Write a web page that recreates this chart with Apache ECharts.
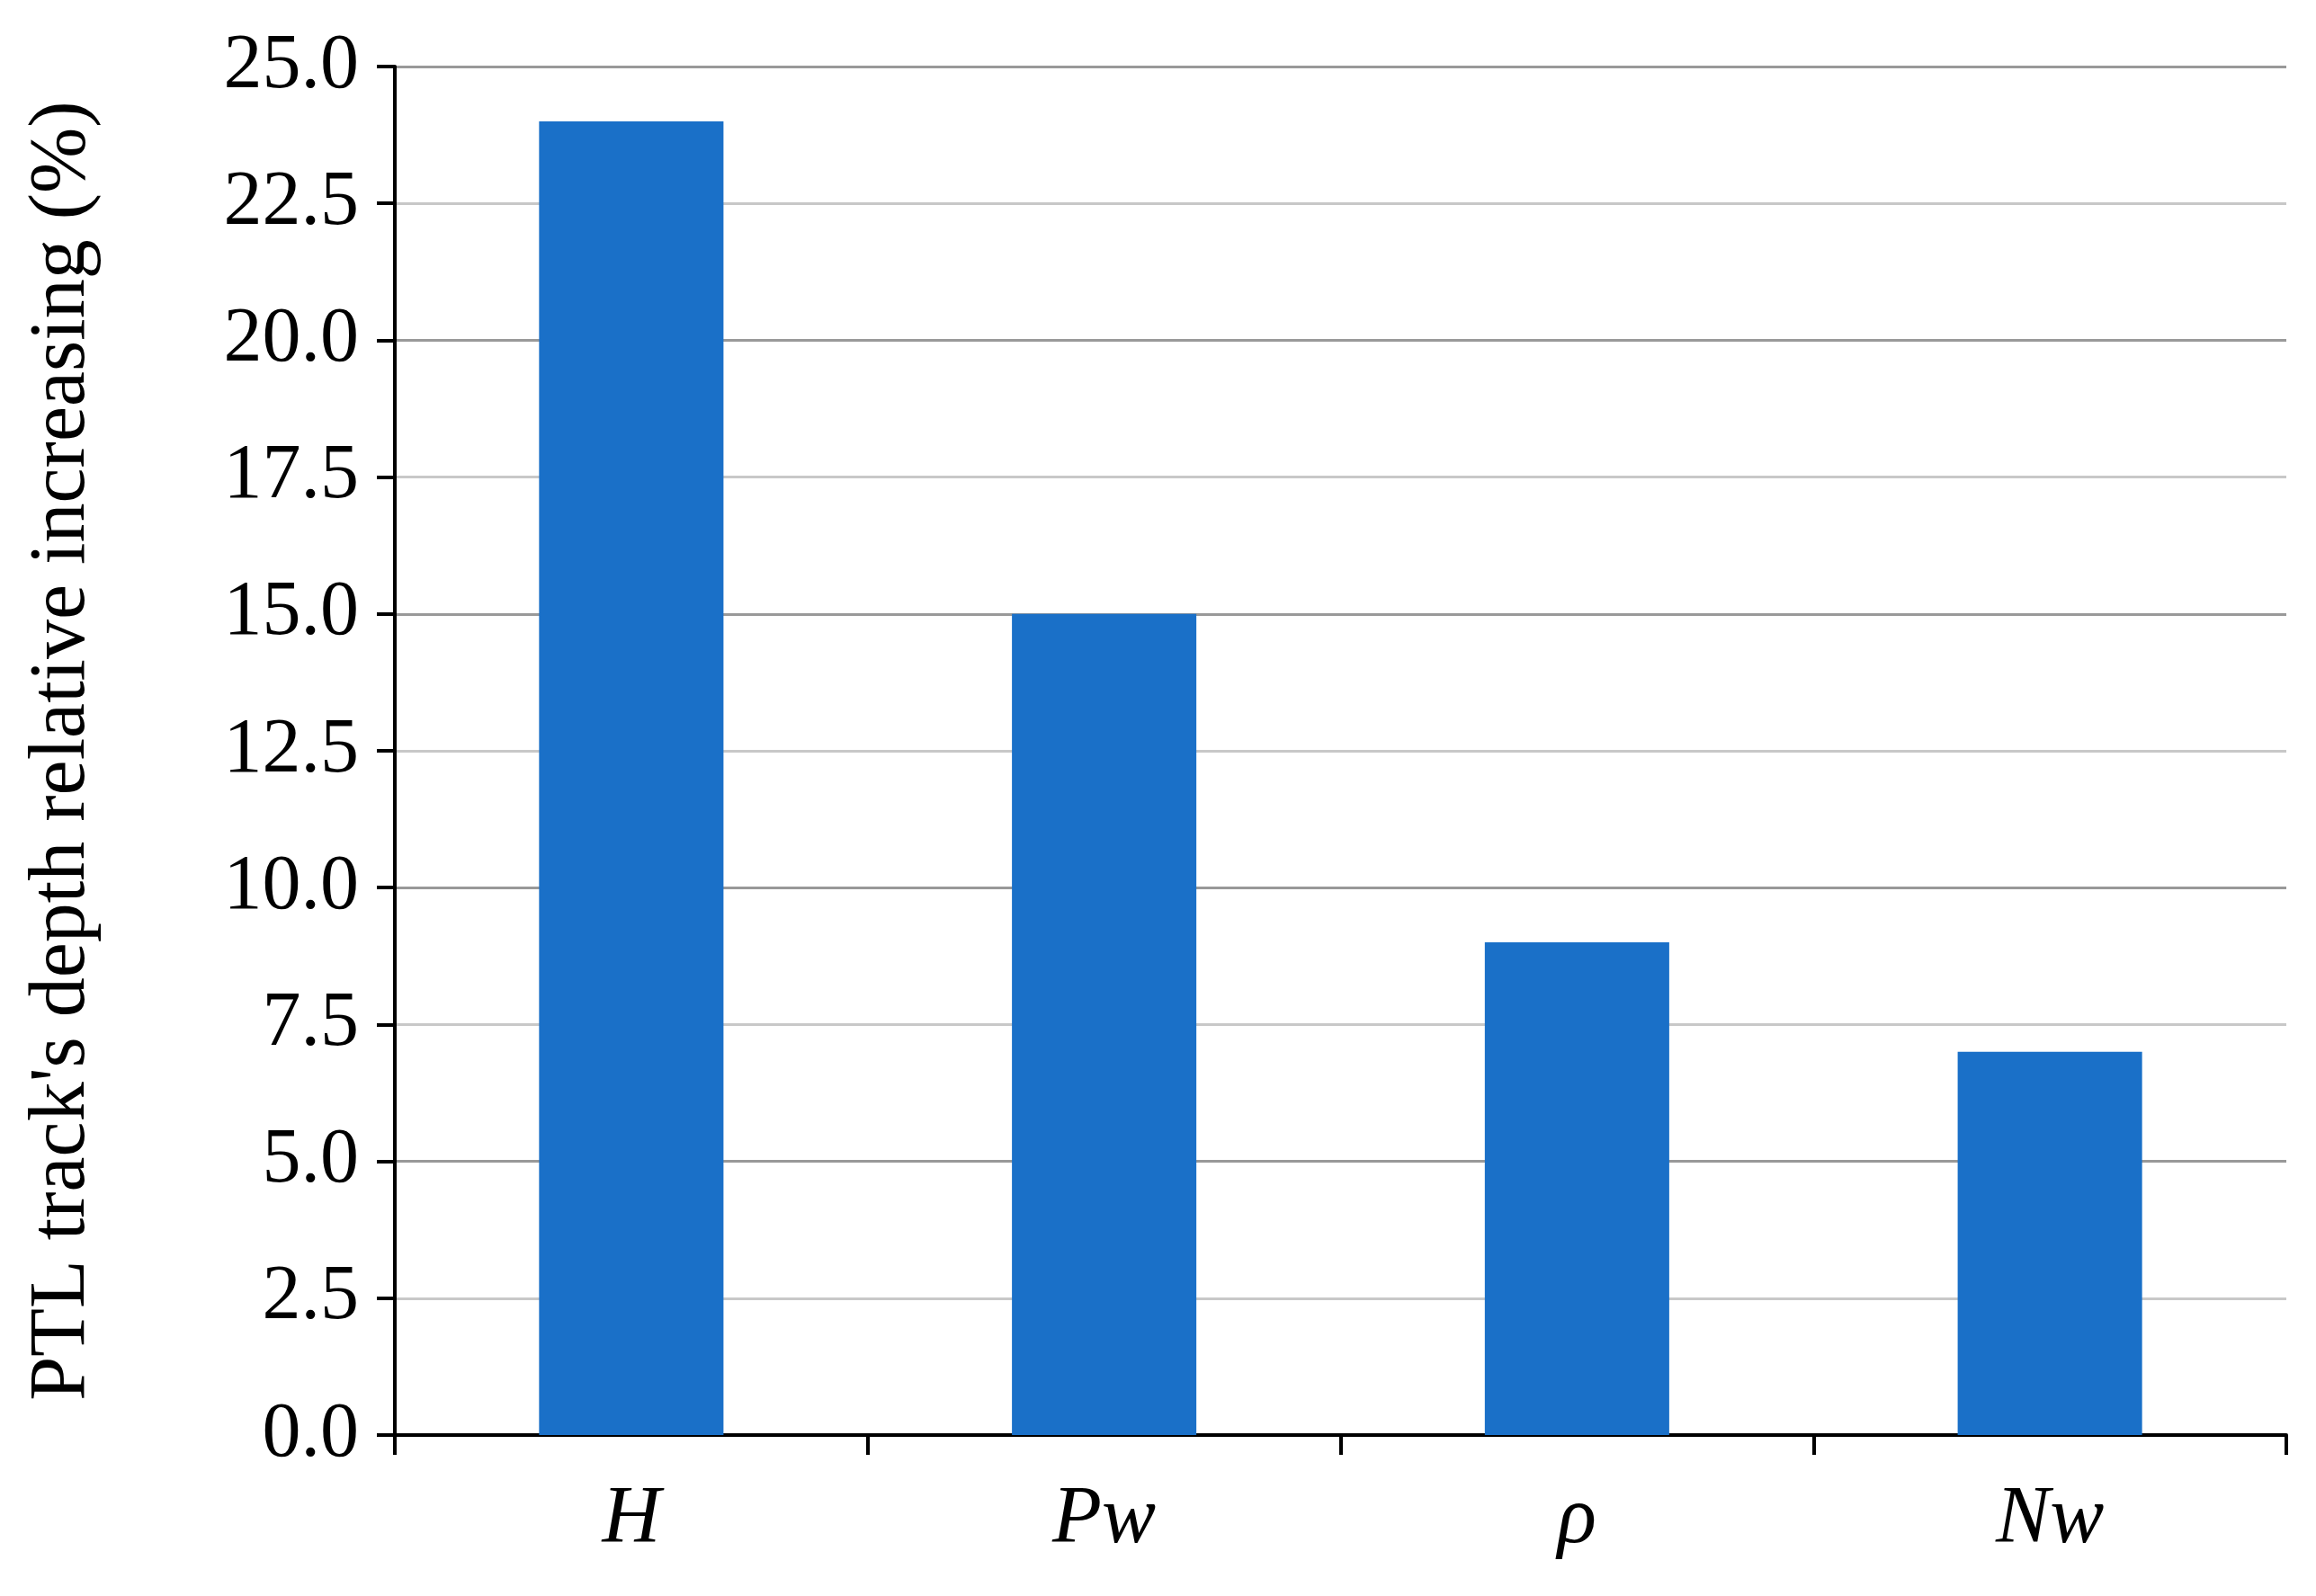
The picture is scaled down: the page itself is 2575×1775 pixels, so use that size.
<!DOCTYPE html>
<html>
<head>
<meta charset="utf-8">
<script src="https://cdn.jsdelivr.net/npm/echarts@6/dist/echarts.min.js"></script>
<style>html,body{margin:0;padding:0;background:#fff}#chart{width:2575px;height:1775px}</style>
</head>
<body>
<div id="chart"></div>
<script>
var categories = ['H', 'Pw', 'ρ', 'Nw'];
var values = [24.0, 15.0, 9.0, 7.0];

var font = '"Liberation Serif", "Times New Roman", Times, serif';
var myChart = echarts.init(document.getElementById('chart'));
myChart.setOption({
  animation: false,
  grid: { left: 439, right: 33, top: 74, bottom: 179 },
  xAxis: {
    type: 'category',
    data: categories,
    axisLine: { lineStyle: { color: '#000', width: 4 } },
    axisTick: { show: true, length: 22, lineStyle: { color: '#000', width: 4 } },
    axisLabel: { fontFamily: font, fontStyle: 'italic', fontSize: 90, color: '#000', margin: 50 }
  },
  yAxis: {
    type: 'value',
    min: 0, max: 25, interval: 2.5,
    name: "PTL track's depth relative increasing (%)",
    nameLocation: 'middle',
    nameGap: 325,
    nameTextStyle: { fontFamily: font, fontSize: 88, color: '#000' },
    axisLine: { show: true, lineStyle: { color: '#000', width: 4 } },
    axisTick: { show: true, length: 20, lineStyle: { color: '#000', width: 4 } },
    axisLabel: {
      fontFamily: font, fontSize: 86, color: '#000', margin: 40,
      formatter: function (v) { return v.toFixed(1); }
    },
    splitLine: { lineStyle: { color: ['#999', '#c8c8c8'], width: 3 } }
  },
  series: [{
    type: 'bar',
    data: values,
    barWidth: '39%',
    itemStyle: { color: '#1a70c8' }
  }]
});
</script>
</body>
</html>
